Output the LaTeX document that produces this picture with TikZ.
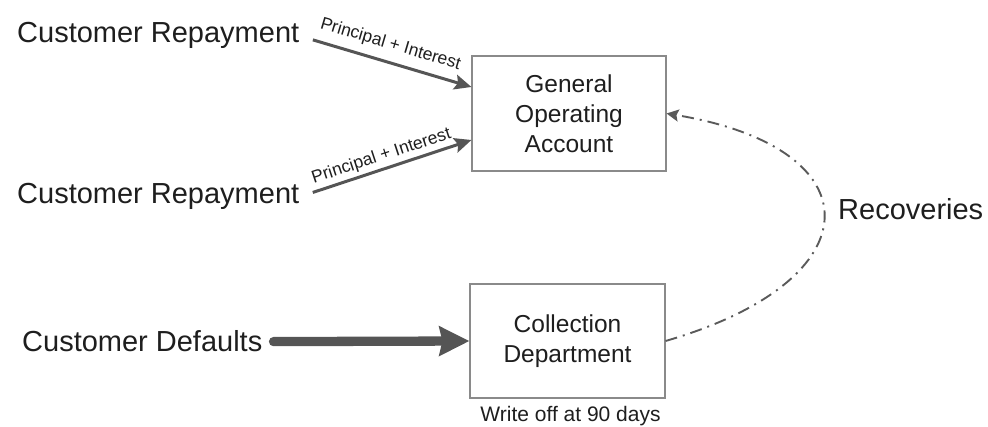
\documentclass[tikz,border=0pt]{standalone}
\usepackage{fontspec}
\setmainfont{Liberation Sans}
\usetikzlibrary{arrows.meta}
\definecolor{txt}{HTML}{1E1E1E}
\definecolor{arr}{HTML}{555555}
\definecolor{boxc}{HTML}{8A8A8A}
\definecolor{dashc}{HTML}{5A5A5A}
\tikzset{
  bigtext/.style={inner sep=0pt, anchor=base west, text=txt, font=\fontsize{29}{35}\selectfont},
  boxnode/.style={draw=boxc, line width=1.1pt, fill=white, minimum width=194pt, minimum height=115pt, align=center, text=txt, font=\fontsize{24.5}{30}\selectfont, inner sep=0pt},
  thinarrow/.style={draw=arr, line width=3pt, -{Stealth[length=17pt,width=15pt,inset=3pt]}},
  thickarrow/.style={draw=arr, line width=9.3pt, line cap=round, -{Stealth[length=30pt,width=29pt,inset=3pt]}},
  dashdot/.style={draw=dashc, line width=1.9pt, dash pattern=on 12pt off 6pt on 2pt off 6pt, -{Stealth[length=12pt,width=12pt,inset=2pt]}},
  smalllabel/.style={inner sep=0pt, text=txt, font=\fontsize{17.5}{20}\selectfont},
}
\begin{document}
\begin{tikzpicture}[x=1pt,y=1pt]
\useasboundingbox (0,0) rectangle (988,427);
\node[bigtext] (cr1) at (17,384) {Customer Repayment};
\node[bigtext] (cr2) at (17,223) {Customer Repayment};
\node[bigtext] (cd) at (22,75) {Customer Defaults};
\node[bigtext] (rec) at (838,207) {Recoveries};
\node[boxnode] (goa) at (569,313.5) {General\\Operating\\Account};
\node[boxnode, minimum width=195pt, minimum height=114pt] (coll) at (567.5,86) {Collection\\Department};
\node[inner sep=0pt, anchor=base, text=txt, font=\fontsize{21}{25}\selectfont] (wo) at (570.5,5) {Write off at 90 days};
\draw[thinarrow, shorten <=14pt] (cr1.east) -- node[smalllabel, sloped, above=8pt, pos=0.5] (l1) {Principal + Interest} ([yshift=26.5pt]goa.west);
\draw[thinarrow, shorten <=14pt] (cr2.east) -- node[smalllabel, sloped, above=3pt, pos=0.5] (l2) {Principal + Interest} ([yshift=-26.5pt]goa.west);
\draw[thickarrow, shorten <=11pt] (cd.east) -- (coll.west);
\draw[dashdot] (coll.east) .. controls (876,147) and (876,279) .. (goa.east);
\end{tikzpicture}
\end{document}
